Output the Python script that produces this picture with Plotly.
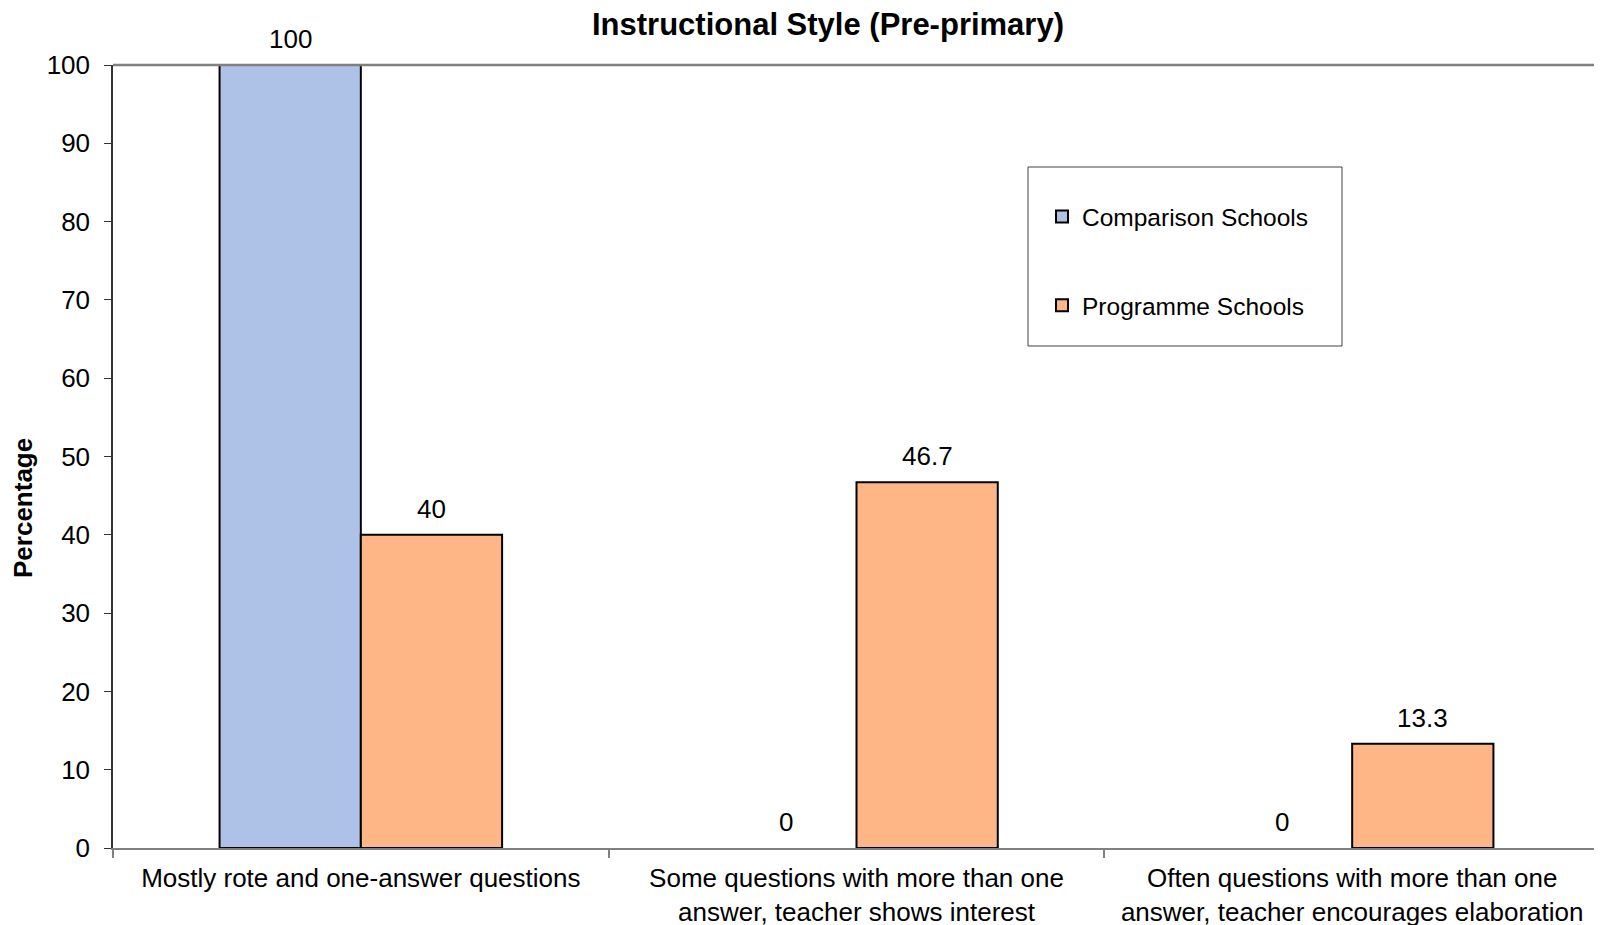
import plotly.graph_objects as go

# ---------------------------------------------------------------------------
# Instructional Style (Pre-primary) -- grouped bars, comparison vs programme
# ---------------------------------------------------------------------------

CATEGORIES = [
    "Mostly rote and one-answer questions",
    "Some questions with more than one<br>answer, teacher shows interest",
    "Often questions with more than one<br>answer, teacher encourages elaboration",
]
COMPARISON = [100, 0, 0]
PROGRAMME = [40, 46.7, 13.3]

# the page body has an 8px margin, so the figure is shrunk by that much
OFF = 8
W, H = 1602 - OFF, 925 - OFF
PLOT_L, PLOT_R, PLOT_T, PLOT_B = 113 - OFF, 1600 - OFF, 65 - OFF, 848 - OFF
PW, PH = PLOT_R - PLOT_L, PLOT_B - PLOT_T

FONT = "Liberation Sans, Arial, sans-serif"
BAR_GAP = 0.43


def _px(x, y):
    """screen px -> paper coords relative to the plot area"""
    return (x - OFF - PLOT_L) / PW, (PLOT_B - (y - OFF)) / PH


fig = go.Figure()
half_bar = (1 - BAR_GAP) * PW / len(CATEGORIES) / 4
series = [
    ("Comparison Schools", COMPARISON, "#AEC2E8", -half_bar),
    ("Programme Schools", PROGRAMME, "#FFB687", half_bar),
]
for name, vals, color, shift in series:
    fig.add_trace(go.Bar(
        x=CATEGORIES, y=vals, name=name, legendgroup=name,
        marker=dict(color=color,
                    line=dict(color="black", width=[2 if v else 0 for v in vals])),
    ))
    # value labels sit a fixed distance above each bar
    for cat, v in zip(CATEGORIES, vals):
        fig.add_annotation(x=cat, y=v, xshift=shift, yshift=26, text=f"{v:g}",
                           showarrow=False, xanchor="center", yanchor="middle",
                           font=dict(size=26, color="black"))

# legend frame (drawn separately so the item spacing can match)
lx0, ly0 = _px(1028, 346)
lx1, ly1 = _px(1342, 167)
fig.add_shape(type="rect", xref="paper", yref="paper",
              x0=lx0, x1=lx1, y0=ly0, y1=ly1,
              line=dict(color="#404040", width=1), fillcolor="rgba(0,0,0,0)")

# top and right borders of the plot area
fig.add_shape(type="line", xref="paper", yref="paper", x0=0, x1=1, y0=1, y1=1,
              line=dict(color="#808080", width=2.5))
fig.add_shape(type="line", xref="paper", yref="paper", x0=1, x1=1, y0=0, y1=1,
              line=dict(color="#c8c8c8", width=1.5))

ax, ay = _px(23, 508)
fig.add_annotation(x=ax, y=ay, xref="paper", yref="paper", text="<b>Percentage</b>",
                   textangle=-90, showarrow=False, xanchor="center", yanchor="middle",
                   font=dict(size=26, color="black", family=FONT))

legx, legy = _px(1042, 194)
fig.update_layout(
    width=W, height=H,
    margin=dict(l=PLOT_L, r=W - PLOT_R, t=PLOT_T, b=H - PLOT_B, autoexpand=False),
    paper_bgcolor="white", plot_bgcolor="white",
    font=dict(family=FONT, size=26, color="black"),
    barmode="group", bargap=BAR_GAP, bargroupgap=0,
    title=dict(text="<b>Instructional Style (Pre-primary)</b>",
               x=(828 - OFF) / W, xref="container", xanchor="center",
               y=1 - (24 - OFF) / H, yref="container", yanchor="middle",
               font=dict(size=31, color="black")),
    legend=dict(x=legx, y=legy, xanchor="left", yanchor="top",
                bgcolor="rgba(0,0,0,0)", borderwidth=0,
                tracegroupgap=54, traceorder="grouped",
                font=dict(size=24.5, color="black")),
    xaxis=dict(showline=True, linecolor="#808080", linewidth=2,
               ticks="outside", tickson="boundaries", ticklen=8,
               tickcolor="#808080", tickwidth=1.5, tickangle=0,
               showgrid=False, ticklabelstandoff=6, automargin=False,
               tickfont=dict(size=26)),
    yaxis=dict(range=[0, 100], dtick=10, showline=True, linecolor="#333333",
               linewidth=1.5, ticks="outside", ticklen=7, tickcolor="#333333",
               showgrid=False, zeroline=False, ticklabelstandoff=9,
               automargin=False, tickfont=dict(size=26)),
)

fig.write_html("out.html")
